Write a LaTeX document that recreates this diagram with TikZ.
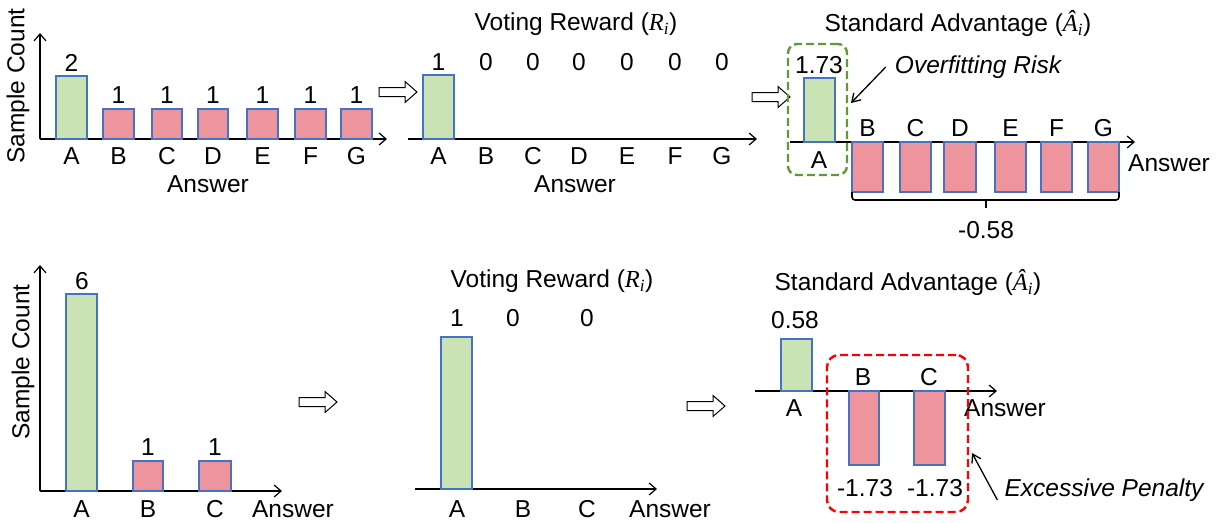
\documentclass[tikz,border=0pt]{standalone}
\usepackage{fontspec}
\setmainfont{Liberation Sans}
\newfontfamily\seriffam{Liberation Serif}
\usetikzlibrary{arrows.meta}
\definecolor{barG}{HTML}{C9E3B5}
\definecolor{barR}{HTML}{EE949C}
\definecolor{barEdge}{HTML}{4472C4}
\definecolor{dashG}{HTML}{5E9A35}
\definecolor{dashR}{HTML}{FF0000}
\newcommand{\symR}{{\seriffam\itshape R\textsubscript{i}}}
\newcommand{\symA}{{\seriffam\itshape Â\textsubscript{i}}}
\tikzset{
  lbl/.style={font=\fontsize{24.5}{28}\selectfont, inner sep=0pt},
  ilbl/.style={inner sep=0pt, font=\fontsize{24.5}{28}\selectfont\itshape},
  axis/.style={line width=1.2pt, -{Straight Barb[length=7pt,width=12pt,line width=1.2pt]}},
  gbar/.style={fill=barG, draw=barEdge, line width=1.3pt},
  rbar/.style={fill=barR, draw=barEdge, line width=1.3pt},
  callout/.style={line width=1.3pt, -{Straight Barb[length=8pt,width=10pt,line width=1.3pt]}},
  harrow/.pic={\draw[line width=1pt, fill=white] (0,-4.5) -- (26,-4.5) -- (26,-10.5) -- (38,0) -- (26,10.5) -- (26,4.5) -- (0,4.5) -- cycle;},
}
\begin{document}
\begin{tikzpicture}[x=1pt,y=-1pt]
\useasboundingbox (0,0) rectangle (1220,522);

% ---------- Panel 1 (top left) ----------
\draw[axis] (40,139) -- (40,33);
\draw[axis] (40,139) -- (387,139);
\draw[gbar] (56,139) rectangle (87,76);
\foreach \a/\b in {103/134,152/182,198/228,247/278,295/326,341/372}
  \draw[rbar] (\a,139) rectangle (\b,109);
\node[lbl, rotate=90] (p1y) at (18,86) {Sample Count};
\node[lbl] (p1v1) at (71.5,63) {2};
\foreach \x [count=\i] in {118.5,167,213,262.5,310.5,356.5}
  \node[lbl] (p1v\i x) at (\x,95) {1};
\foreach \x/\t in {71.5/A,118.5/B,167/C,213/D,262.5/E,310.5/F,356.5/G}
  \node[lbl] (p1l\t) at (\x,156) {\t};
\node[lbl] (p1ans) at (208,184) {Answer};
\pic (h1) at (379,92) {harrow};

% ---------- Panel 2 (top middle) ----------
\node[lbl] (p2t) at (576,24) {Voting Reward (\symR)};
\draw[axis] (408,139) -- (757,139);
\draw[gbar] (423,139) rectangle (454,75);
\foreach \x/\v/\t in {438.5/1/A,486/0/B,533/0/C,579/0/D,627/0/E,675/0/F,722/0/G}{
  \node[lbl] (p2v\t) at (\x,62) {\v};
  \node[lbl] (p2l\t) at (\x,156) {\t};
}
\node[lbl] (p2ans) at (575,184) {Answer};
\pic (h2) at (752,97) {harrow};

% ---------- Panel 3 (top right) ----------
\node[lbl] (p3t) at (958,24) {Standard Advantage (\symA)};
\draw[axis] (790,142) -- (1135,142);
\draw[gbar] (804,142) rectangle (835,78);
\foreach \a/\b in {852/883,900/931,944/976,995/1026,1041/1072,1088/1119}
  \draw[rbar] (\a,142) rectangle (\b,192);
\node[draw=dashG, dashed, dash pattern=on 8pt off 4pt, line width=2.4pt, rounded corners=9pt,
      minimum width=59pt, minimum height=131pt, inner sep=0pt] (gbox) at (817.5,109.5) {};
\node[lbl] (p3vA) at (819,65) {1.73};
\node[lbl] (p3lA) at (819,160) {A};
\foreach \x/\t in {867.5/B,915.5/C,960/D,1010.5/E,1056.5/F,1103.5/G}
  \node[lbl] (p3l\t) at (\x,128) {\t};
\node[lbl] (p3ans) at (1169,163) {Answer};
\draw[line width=1.6pt, rounded corners=3pt] (852,192) -- (852,200) -- (1119,200) -- (1119,192);
\draw[line width=1.6pt] (986,200) -- (986,208);
\node[lbl] (p3neg) at (986,230) {-0.58};
\node[ilbl] (ovf) at (978,67) {Overfitting Risk};
\coordinate (ovftip) at (851,103);
\draw[callout] ([xshift=-9pt]ovf.west) -- (ovftip);

% ---------- Panel 4 (bottom left) ----------
\draw[axis] (40,491) -- (40,265);
\draw[axis] (40,491) -- (282,491);
\draw[gbar] (66,491) rectangle (97,294);
\draw[rbar] (133,491) rectangle (163,461);
\draw[rbar] (199,491) rectangle (231,461);
\node[lbl, rotate=90] (p4y) at (23,362) {Sample Count};
\node[lbl] (p4vA) at (82,281) {6};
\node[lbl] (p4vB) at (148,447) {1};
\node[lbl] (p4vC) at (215,447) {1};
\node[lbl] (p4lA) at (81.5,509) {A};
\node[lbl] (p4lB) at (148,509) {B};
\node[lbl] (p4lC) at (215,509) {C};
\node[lbl] (p4ans) at (293,509) {Answer};
\pic (h4) at (299,402) {harrow};

% ---------- Panel 5 (bottom middle) ----------
\node[lbl] (p5t) at (552,281) {Voting Reward (\symR)};
\draw[axis] (415,489) -- (657,489);
\draw[gbar] (441,489) rectangle (472,337);
\node[lbl] (p5vA) at (457,318) {1};
\node[lbl] (p5vB) at (513,318) {0};
\node[lbl] (p5vC) at (587,318) {0};
\node[lbl] (p5lA) at (457,509) {A};
\node[lbl] (p5lB) at (523,509) {B};
\node[lbl] (p5lC) at (587,509) {C};
\node[lbl] (p5ans) at (670,509) {Answer};
\pic (h5) at (687,406) {harrow};

% ---------- Panel 6 (bottom right) ----------
\node[lbl] (p6t) at (908,283) {Standard Advantage (\symA)};
\draw[axis] (755,391) -- (997,391);
\draw[gbar] (781,391) rectangle (812,339);
\draw[rbar] (849,391) rectangle (879,465);
\draw[rbar] (914,391) rectangle (945,465);
\node[lbl] (p6vA) at (795,320) {0.58};
\node[lbl] (p6lA) at (794,408) {A};
\node[lbl] (p6lB) at (863,377) {B};
\node[lbl] (p6lC) at (929,377) {C};
\node[lbl] (p6vB) at (865,488) {-1.73};
\node[lbl] (p6vC) at (935,488) {-1.73};
\node[lbl] (p6ans) at (1005,408) {Answer};
\node[draw=dashR, dashed, dash pattern=on 8pt off 4pt, line width=2.4pt, rounded corners=12pt,
      minimum width=141pt, minimum height=157pt, inner sep=0pt] (rbox) at (897.5,433.5) {};
\node[ilbl] (exc) at (1104,490) {Excessive Penalty};
\coordinate (exctip) at (972,453);
\draw[callout] ([xshift=-7pt,yshift=-10pt]exc.west) -- (exctip);
\end{tikzpicture}
\end{document}
